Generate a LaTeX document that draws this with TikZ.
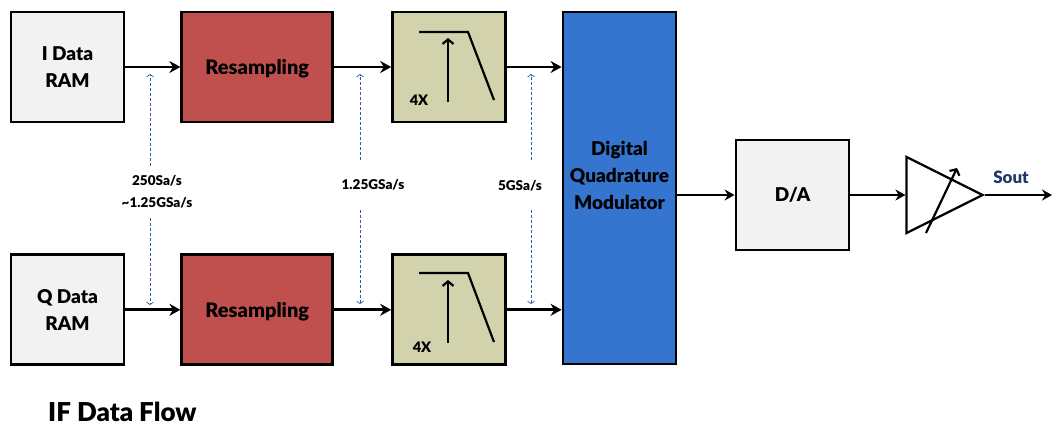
\documentclass[tikz,border=0pt]{standalone}
\usepackage{fontspec}
\setmainfont[BoldFont={Lato Black}]{Lato}
\usepackage{xcolor}
\usepackage{tikz}
\usetikzlibrary{arrows.meta, positioning, shapes.geometric, calc}
\definecolor{ramgray}{HTML}{F2F2F2}
\definecolor{resred}{HTML}{C0504D}
\definecolor{filtolive}{HTML}{D2D3AC}
\definecolor{modblue}{HTML}{3575CF}
\definecolor{ratedash}{HTML}{2F5C9E}
\definecolor{soutnavy}{HTML}{1F3864}

\begin{document}
\begin{tikzpicture}[
  x=1pt, y=-1pt,
  node distance=56pt and 56pt,
  box/.style={rectangle, draw=black, line width=2.8pt, minimum width=113pt, minimum height=110pt, font=\fontsize{19}{27}\bfseries, align=center, inner sep=0pt},
  resbox/.style={box, fill=resred, minimum width=151pt, text depth=0pt, font=\fontsize{20}{27}\bfseries},
  flow/.style={-{Stealth[length=11pt, width=12pt]}, line width=2.7pt},
  thinflow/.style={-{Stealth[length=10pt, width=11pt]}, line width=2.4pt},
  upflow/.style={-{Straight Barb[length=4.5pt, width=11pt]}, line width=2.2pt},
  rate/.style={-{Straight Barb[length=2.5pt, width=7pt]}, densely dashed, ratedash, line width=0.7pt},
  ratelabel/.style={font=\fontsize{13.5}{22}\bfseries, align=center, inner sep=0pt},
  label/.style={font=\fontsize{14.5}{16}\bfseries, inner sep=0pt}
]
\useasboundingbox (0,0) rectangle (1052,428);
\node[box, fill=ramgray] at (67.5,67) (iram) {I Data\\RAM};
\node[resbox, right=55pt of iram] (resi) {Resampling};
\node[box, fill=filtolive, right=57pt of resi] (filti) {};
\node[box, fill=ramgray, below=130pt of iram] (qram) {Q Data\\RAM};
\node[resbox, right=55pt of qram] (resq) {Resampling};
\node[box, fill=filtolive, right=57pt of resq] (filtq) {};
\node[box, fill=modblue, minimum height=352pt, text depth=25pt] at (619.5,188) (dqm) {Digital\\Quadrature\\Modulator};
\node[box, fill=ramgray] at (792.5,195) (da) {D/A};
\node[isosceles triangle, isosceles triangle apex angle=53.13, draw=black, line width=2.2pt, minimum height=76pt, inner sep=0pt, anchor=apex] at (985,195) (amp) {};
\coordinate (sout) at (1052,195);
% data path
\draw[flow] (iram) -- (resi);
\draw[flow] (resi) -- (filti);
\draw[flow] (filti) -- (filti -| dqm.west);
\draw[flow] (qram) -- (resq);
\draw[flow] (resq) -- (filtq);
\draw[flow] (filtq) -- (filtq -| dqm.west);
\draw[thinflow] (da -| dqm.east) -- (da);
\draw[thinflow] (da) -- (amp.west);
\draw[thinflow] (amp.apex) -- (sout);
\node[font=\fontsize{17}{18}\bfseries, text=soutnavy] at (1011,177) (soutlabel) {Sout};
% gain arrow
\coordinate (gaina) at (926,233);
\coordinate (gainb) at (957,168);
\draw[upflow] (gaina) -- (gainb);
% filter sketches
\coordinate (ftl) at (419,32);
\coordinate (ftm) at (468,32);
\coordinate (ftr) at (494,100);
\coordinate (fta) at (448,102);
\coordinate (ftb) at (448,38);
\draw[line width=2.2pt] (ftl) -- (ftm) -- (ftr);
\draw[upflow] (fta) -- (ftb);
\node[label] at (419,100) (fouri) {4X};
\coordinate (fbl) at (419,273);
\coordinate (fbm) at (468,273);
\coordinate (fbr) at (494,342);
\coordinate (fba) at (448,343);
\coordinate (fbb) at (448,280);
\draw[line width=2.2pt] (fbl) -- (fbm) -- (fbr);
\draw[upflow] (fba) -- (fbb);
\node[label] at (422,347) (fourq) {4X};
% sample rates
\node[ratelabel] at (157,192) (ratea) {250Sa/s\\\textasciitilde1.25GSa/s};
\node[ratelabel] at (373,185) (rateb) {1.25GSa/s};
\node[ratelabel] at (520,186) (ratec) {5GSa/s};
\coordinate (atop) at (150,166);
\coordinate (atopend) at (150,74);
\coordinate (abot) at (150,218);
\coordinate (abotend) at (150,305);
\coordinate (btop) at (360,160);
\coordinate (btopend) at (360,74);
\coordinate (bbot) at (360,210);
\coordinate (bbotend) at (360,304);
\coordinate (ctop) at (531,160);
\coordinate (ctopend) at (531,74);
\coordinate (cbot) at (531,210);
\coordinate (cbotend) at (531,304);
\draw[rate] (atop) -- (atopend);
\draw[rate] (abot) -- (abotend);
\draw[rate] (btop) -- (btopend);
\draw[rate] (bbot) -- (bbotend);
\draw[rate] (ctop) -- (ctopend);
\draw[rate] (cbot) -- (cbotend);
\node[font=\fontsize{26}{28}\bfseries, anchor=west, inner sep=0pt] at (48,412) (title) {IF Data Flow};
\end{tikzpicture}
\end{document}
